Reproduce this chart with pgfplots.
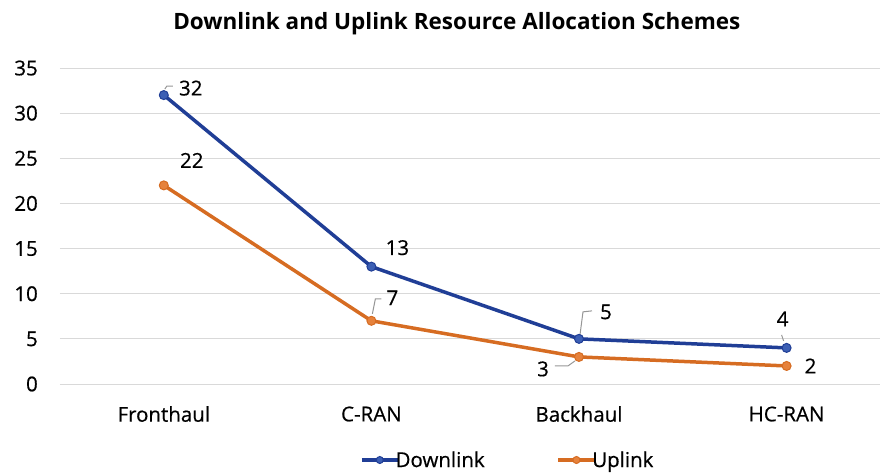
\documentclass[border=0pt]{standalone}
\usepackage{fontspec}
\setmainfont{Open Sans}[FakeBold=0.5]
\newfontfamily\titlefont{Open Sans}
\usepackage{pgfplots}
\pgfplotsset{compat=1.18}
\usetikzlibrary{calc}
\definecolor{dl}{RGB}{32,62,150}
\definecolor{dlf}{RGB}{60,95,180}
\definecolor{ul}{RGB}{214,108,34}
\definecolor{ulf}{RGB}{230,130,60}
\definecolor{gridc}{RGB}{217,217,217}
\definecolor{lead}{RGB}{150,150,150}
\begin{document}
\begin{tikzpicture}[font=\fontsize{20.5pt}{24pt}\selectfont]
\path[use as bounding box] (-60pt,-90pt) rectangle (822pt,384pt);
\begin{axis}[
  scale only axis,
  width=820pt, height=316pt,
  xmin=-0.5, xmax=3.45,
  ymin=0, ymax=35,
  ytick={0,5,...,35},
  xtick={0,1,2,3},
  xticklabels={Fronthaul,C-RAN,Backhaul,HC-RAN},
  major tick length=0pt,
  axis line style={draw=none},
  ymajorgrids,
  grid style={gridc, line width=1pt},
  /pgf/number format/assume math mode=true,
  yticklabel style={anchor=east, inner sep=0pt, xshift=-22pt},
  xticklabel style={anchor=center, inner sep=0pt, yshift=-30pt},
  title={\titlefont\fontsize{22.5pt}{26pt}\selectfont\bfseries Downlink and Uplink Resource Allocation Schemes},
  title style={at={(0.484,1)}, anchor=center, yshift=38pt, inner sep=0pt},
  legend columns=2,
  legend style={draw=none, at={(0.546,0)}, anchor=center, yshift=-76pt,
    /tikz/every even column/.append style={column sep=70pt}, inner sep=0pt},
  legend image code/.code={
    \draw[#1, mark=none] (0pt,0pt) -- (36pt,0pt);
    \path[#1, mark repeat=1, mark size=3.5pt] plot coordinates {(18pt,0pt)};
  },
  clip=false,
]
\addplot[dl, line width=3.5pt, mark=*, mark options={fill=dlf, draw=dl, line width=1pt}, mark size=4.5pt]
  coordinates {(0,32) (1,13) (2,5) (3,4)};
\addlegendentry{\hspace{-6pt}Downlink}
\addplot[ul, line width=3.5pt, mark=*, mark options={fill=ulf, draw=ul, line width=1pt}, mark size=4.5pt]
  coordinates {(0,22) (1,7) (2,3) (3,2)};
\addlegendentry{\hspace{-6pt}Uplink}
% data labels
\node at ($(axis cs:0,32)+(27pt,7pt)$) {32};
\node at ($(axis cs:0,22)+(28pt,25pt)$) {22};
\node at ($(axis cs:1,13)+(26pt,19pt)$) {13};
\node at ($(axis cs:1,7)+(21pt,23pt)$) {7};
\node at ($(axis cs:2,5)+(27pt,27pt)$) {5};
\node at ($(axis cs:2,3)+(-36pt,-12pt)$) {3};
\node at ($(axis cs:3,4)+(-4pt,29pt)$) {4};
\node at ($(axis cs:3,2)+(24pt,0pt)$) {2};
% leader lines
\draw[lead, line width=1pt] ($(axis cs:0,32)+(1pt,6pt)$) -- ($(axis cs:0,32)+(3pt,9pt)$) -- ($(axis cs:0,32)+(9pt,9pt)$);
\draw[lead, line width=1pt] ($(axis cs:1,7)+(1pt,7pt)$) -- ($(axis cs:1,7)+(4pt,22pt)$) -- ($(axis cs:1,7)+(10pt,22pt)$);
\draw[lead, line width=1pt] ($(axis cs:2,5)+(1pt,4pt)$) -- ($(axis cs:2,5)+(4pt,27pt)$) -- ($(axis cs:2,5)+(13pt,28pt)$);
\draw[lead, line width=1pt] ($(axis cs:2,3)+(-4pt,-4pt)$) -- ($(axis cs:2,3)+(-11pt,-9pt)$) -- ($(axis cs:2,3)+(-24pt,-9pt)$);
\draw[lead, line width=1pt] ($(axis cs:3,4)+(-3pt,7pt)$) -- ($(axis cs:3,4)+(-5pt,13pt)$);
\end{axis}
\end{tikzpicture}
\end{document}
